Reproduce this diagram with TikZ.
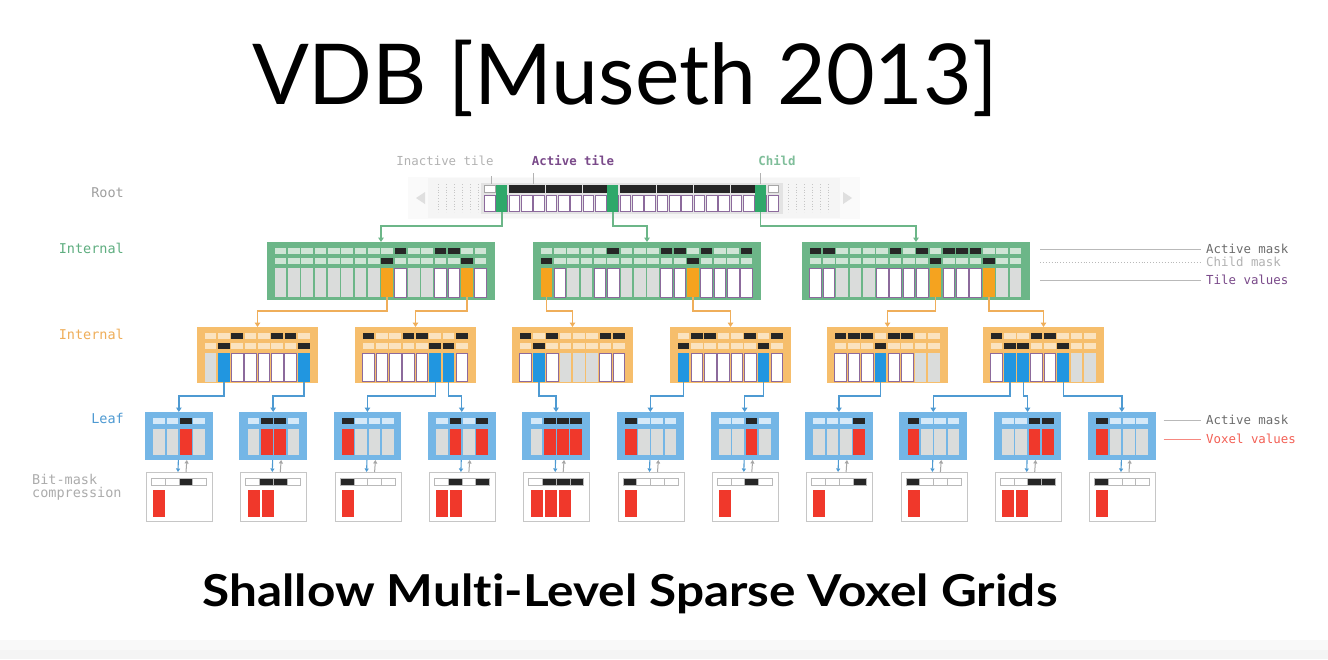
\documentclass[tikz,border=0pt]{standalone}
\usepackage{fontspec}
\newfontfamily\latof{Lato}[Ligatures=NoCommon]
\newfontfamily\monof{DejaVu Sans Mono}
\usetikzlibrary{arrows.meta}
\definecolor{gfr}{HTML}{6CB688}
\definecolor{gml}{HTML}{D0E5D6}
\definecolor{gch}{HTML}{2FA86A}
\definecolor{ofr}{HTML}{F6BE6C}
\definecolor{oml}{HTML}{FBE3BF}
\definecolor{och}{HTML}{F5A31F}
\definecolor{bfr}{HTML}{74B6E6}
\definecolor{bml}{HTML}{D5E9F8}
\definecolor{bch}{HTML}{2196E0}
\definecolor{vred}{HTML}{F0382B}
\definecolor{blk}{HTML}{262626}
\definecolor{gry}{HTML}{DADCDB}
\definecolor{purp}{HTML}{8C6A9C}
\definecolor{gtxt}{HTML}{5FAE80}
\definecolor{otxt}{HTML}{EFAE5A}
\definecolor{btxt}{HTML}{4E9AD2}
\definecolor{ptxt}{HTML}{7A4A8A}
\tikzset{
 gm0/.style={fill=gml}, gm1/.style={fill=blk},
 om0/.style={fill=oml}, om1/.style={fill=blk},
 bm0/.style={fill=bml}, bm1/.style={fill=blk},
 vg/.style={fill=gry}, vw/.style={fill=white,draw=purp,line width=0.9pt},
 vo/.style={fill=och}, vb/.style={fill=bch},
 lv0/.style={fill=gry}, lv1/.style={fill=vred},
 bk0/.style={fill=white,draw=gray!55,line width=0.7pt},
 bk1/.style={fill=blk,draw=gray!55,line width=0.7pt},
 gframe/.style={fill=gfr,minimum width=228pt,minimum height=58pt,inner sep=0pt,outer sep=0pt},
 oframe/.style={fill=ofr,minimum width=121pt,minimum height=56pt,inner sep=0pt,outer sep=0pt},
 lframe/.style={fill=bfr,minimum width=67.7pt,minimum height=48pt,inner sep=0pt,outer sep=0pt},
 bbox/.style={fill=white,draw=gray!45,line width=0.8pt,minimum width=66pt,minimum height=49pt,inner sep=0pt,outer sep=0pt},
 tip/.style={-{Triangle[width=5.5pt,length=4.5pt]}},
 gcon/.style={tip,draw=gfr,line width=1.4pt},
 ocon/.style={tip,draw=otxt,line width=1.4pt},
 bcon/.style={tip,draw=btxt,line width=1.4pt},
 lab/.style={font=\monof\fontsize{13.5}{15}\selectfont,inner sep=0pt},
 slab/.style={font=\monof\fontsize{12.4}{14}\selectfont,inner sep=0pt},
}
\newcommand\gnode[6]{%
 \begin{scope}[shift={(#2,#3)}]
 \node[gframe,anchor=north west] (#1) at (0,0) {};
 \foreach \val [count=\idx] in {#4} {\path[gm\val] ({7.7+13.33*(\idx-1)},6) rectangle ++(11.7,5.5);}
 \foreach \val [count=\idx] in {#5} {\path[gm\val] ({7.7+13.33*(\idx-1)},16) rectangle ++(11.7,5.5);}
 \foreach \val [count=\idx] in {#6} {\path[v\val] ({7.7+13.33*(\idx-1)},26) rectangle ++(11.7,29);
   \coordinate (#1-\idx) at ({7.7+13.33*(\idx-1)+5.85},55);}
 \end{scope}}
\newcommand\onode[5]{%
 \begin{scope}[shift={(#2,327)}]
 \node[oframe,anchor=north west] (#1) at (0,0) {};
 \foreach \val [count=\idx] in {#3} {\path[om\val] ({7.7+13.33*(\idx-1)},6) rectangle ++(11.7,5.5);}
 \foreach \val [count=\idx] in {#4} {\path[om\val] ({7.7+13.33*(\idx-1)},16) rectangle ++(11.7,5.5);}
 \foreach \val [count=\idx] in {#5} {\path[v\val] ({7.7+13.33*(\idx-1)},26) rectangle ++(11.7,28.5);
   \coordinate (#1-\idx) at ({7.7+13.33*(\idx-1)+5.85},54.5);}
 \end{scope}}
\newcommand\leafnode[4]{%
 \begin{scope}[shift={(#2,412)}]
 \node[lframe,anchor=north west] (#1) at (0,0) {};
 \foreach \val [count=\idx] in {#3} {
   \path[bm\val] ({8.3+13.33*(\idx-1)},6) rectangle ++(11.7,6);
   \path[lv\val] ({8.3+13.33*(\idx-1)},17) rectangle ++(11.7,26);}
 \node[bbox,anchor=north west] (#1b) at (1.5,60) {};
 \foreach \val [count=\idx] in {#3} {\path[bk\val] ({6.5+13.75*(\idx-1)},66.5) rectangle ++(13.75,6.5);}
 \foreach \k in {1,...,#4} {\path[fill=vred] ({8.3+14*(\k-1)},77.5) rectangle ++(12,27.5);}
 \end{scope}
 \draw[-{Triangle[width=4pt,length=3.5pt]},draw=btxt,line width=1.1pt] ([xshift=-0.5pt]#1.south) -- ([xshift=-1.5pt]#1b.north);
 \draw[-{Triangle[width=4pt,length=3.5pt]},draw=gray!70,line width=1pt] ([xshift=6.5pt]#1b.north) -- ([xshift=8pt]#1.south);}
\begin{document}
\begin{tikzpicture}[x=1pt,y=-1pt]
\useasboundingbox (0,0) rectangle (1328,659);
\fill[white] (0,0) rectangle (1328,659);
\fill[gray!5] (0,640) rectangle (1328,659);
\fill[gray!9] (0,650) rectangle (1328,659);
% title
\node[font=\latof\fontsize{84}{90}\selectfont,inner sep=0pt] (title) at (625,78) {VDB [Museth 2013]};
\node[font=\latof\bfseries\fontsize{44}{48}\selectfont,inner sep=0pt] (subtitle) at (630,594) {\scalebox{1.125}[1]{Shallow Multi-Level Sparse Voxel Grids}};
% left labels
\node[lab,text=gray!75,anchor=east] (lroot) at (124,193) {Root};
\node[lab,text=gtxt,anchor=east] (lint1) at (124,248) {Internal};
\node[lab,text=otxt,anchor=east] (lint2) at (124,334) {Internal};
\node[lab,text=btxt,anchor=east] (lleaf) at (124,418) {Leaf};
\node[lab,text=gray!65,anchor=west] (lbit1) at (32,479) {Bit-mask};
\node[lab,text=gray!65,anchor=west] (lbit2) at (32,494) {compression};
% root
\fill[gray!4] (408,177) rectangle (860,219);
\fill[gray!8] (428,178) rectangle (840,218);
\foreach \xx in {438,446,...,478} {\draw[gray!45,dotted,line width=0.8pt] (\xx,184) -- (\xx,212);}
\foreach \xx in {788,796,...,828} {\draw[gray!45,dotted,line width=0.8pt] (\xx,184) -- (\xx,212);}
\fill[gray!25] (416,198) -- (425,192) -- (425,204) -- cycle;
\fill[gray!25] (852,198) -- (843,192) -- (843,204) -- cycle;
\node[fill=gray!22,minimum width=302pt,minimum height=31pt,inner sep=0pt,anchor=north west] (root) at (481,182.5) {};
\foreach \val [count=\idx] in {i,c,a,a,a,a,a,a,a,a,c,a,a,a,a,a,a,a,a,a,a,a,c,i} {
  \if a\val \path[fill=blk] ({484+12.33*(\idx-1)},185) rectangle ++(12.1,7.5); \fi
  \if i\val \path[fill=white,draw=gray!70,line width=0.7pt] ({484.5+12.33*(\idx-1)},185.5) rectangle ++(10.6,6.5); \fi
  \path[fill=white,draw=purp,line width=0.9pt] ({484.5+12.33*(\idx-1)},195) rectangle ++(10.6,16);
}
\foreach \cc/\pos in {1/2,2/11,3/23} {
  \node[fill=gch,minimum width=11pt,minimum height=27pt,inner sep=0pt,outer sep=0pt,anchor=north west] (rc\cc) at ({484+12.33*(\pos-1)},185) {};
}
\node[slab,text=gray!60] (tinact) at (445,161) {Inactive tile};
\node[slab,text=ptxt,font=\monof\bfseries\fontsize{12.4}{14}\selectfont] (tact) at (573,161) {Active tile};
\node[slab,text=gtxt!80,font=\monof\bfseries\fontsize{12.4}{14}\selectfont] (tchild) at (777,161) {Child};
\coordinate (k1) at (491.5,176); \coordinate (k2) at (533,173); \coordinate (k3) at (760,173);
\draw[gray!60,line width=0.7pt] (k1) -- (491.5,184);
\draw[gray!60,line width=0.7pt] (k2) -- (533,184);
\draw[gray!60,line width=0.7pt] (k3) -- (760,184);
% green internal nodes
\gnode{g1}{267}{242}{0,0,0,0,0,0,0,0,0,1,0,0,1,1,0,0}{0,0,0,0,0,0,0,0,1,0,0,0,0,0,1,0}{g,g,g,g,g,g,g,g,o,w,g,g,w,w,o,w}
\gnode{g2}{533}{242}{0,0,0,0,0,1,0,0,0,1,1,0,1,0,0,1}{1,0,0,0,0,0,0,0,0,0,0,1,0,0,0,0}{o,w,g,g,w,w,g,g,g,w,w,o,w,w,w,w}
\gnode{g3}{802}{242}{1,1,0,0,0,0,1,0,1,0,1,1,1,0,0,0}{0,0,0,0,0,0,0,0,0,1,0,0,0,1,0,0}{w,w,g,g,g,w,w,w,w,o,w,w,w,o,g,g}
\draw[gcon] (rc1.south) -- ++(0,14) -| (g1.north);
\draw[gcon] (rc2.south) -- ++(0,14) -| (g2.north);
\draw[gcon] (rc3.south) -- ++(0,14) -| (g3.north);
% orange internal nodes
\onode{o1}{197}{0,0,1,0,0,1,1,0}{0,1,0,0,0,0,0,1}{g,b,w,w,w,w,w,b}
\onode{o2}{355}{1,0,0,1,1,0,0,1}{0,0,0,0,0,1,1,0}{w,w,w,w,w,b,b,w}
\onode{o3}{512}{1,0,1,0,0,0,1,1}{0,1,0,0,0,0,0,0}{w,b,w,g,g,g,w,w}
\onode{o4}{670}{0,1,1,0,0,1,0,1}{1,0,0,0,0,0,1,0}{b,w,w,w,w,w,b,w}
\onode{o5}{827}{1,1,1,0,1,1,0,0}{0,0,0,1,0,0,0,0}{w,w,w,b,w,w,g,g}
\onode{o6}{983}{1,0,0,1,1,0,0,0}{0,1,1,0,0,1,0,0}{w,b,b,w,w,b,g,g}
\draw[ocon] (g1-9) -- ++(0,14) -| (o1.north);
\draw[ocon] (g1-15) -- ++(0,14) -| (o2.north);
\draw[ocon] (g2-1) -- ++(0,14) -| (o3.north);
\draw[ocon] (g2-12) -- ++(0,14) -| (o4.north);
\draw[ocon] (g3-10) -- ++(0,14) -| (o5.north);
\draw[ocon] (g3-14) -- ++(0,14) -| (o6.north);
% leaves
\leafnode{l1}{145}{0,0,1,0}{1}
\leafnode{l2}{239.3}{0,1,1,0}{2}
\leafnode{l3}{333.6}{1,0,0,0}{1}
\leafnode{l4}{427.9}{0,1,0,1}{2}
\leafnode{l5}{522.2}{0,1,1,1}{3}
\leafnode{l6}{616.5}{1,0,0,0}{1}
\leafnode{l7}{710.8}{0,0,1,0}{1}
\leafnode{l8}{805.1}{0,0,0,1}{1}
\leafnode{l9}{899.4}{1,0,0,0}{1}
\leafnode{l10}{993.7}{0,0,1,1}{2}
\leafnode{l11}{1088}{1,0,0,0}{1}
\draw[bcon] (o1-2) -- ++(0,14.5) -| (l1.north);
\draw[bcon] (o1-8) -- ++(0,14.5) -| (l2.north);
\draw[bcon] (o2-6) -- ++(0,14.5) -| (l3.north);
\draw[bcon] (o2-7) -- ++(0,14.5) -| (l4.north);
\draw[bcon] (o3-2) -- ++(0,14.5) -| (l5.north);
\draw[bcon] (o4-1) -- ++(0,14.5) -| (l6.north);
\draw[bcon] (o4-7) -- ++(0,14.5) -| (l7.north);
\draw[bcon] (o5-4) -- ++(0,14.5) -| (l8.north);
\draw[bcon] (o6-2) -- ++(0,14.5) -| (l9.north);
\draw[bcon] (o6-3) -- ++(0,14.5) -| (l10.north);
\draw[bcon] (o6-6) -- ++(0,14.5) -| (l11.north);
% right labels
\node[slab,text=gray!85!black,anchor=west] (ram) at (1206,249) {Active mask};
\node[slab,text=gray!60,anchor=west] (rcm) at (1206,262) {Child mask};
\node[slab,text=ptxt,anchor=west] (rtv) at (1206,280) {Tile values};
\draw[gray!55,line width=0.9pt] ([xshift=10pt]g3.east |- ram.west) -- ([xshift=-5pt]ram.west);
\draw[gray!55,line width=0.9pt,dotted] ([xshift=10pt]g3.east |- rcm.west) -- ([xshift=-5pt]rcm.west);
\draw[gray!55,line width=0.9pt] ([xshift=10pt]g3.east |- rtv.west) -- ([xshift=-5pt]rtv.west);
\node[slab,text=gray!85!black,anchor=west] (lam) at (1206,420) {Active mask};
\node[slab,text=vred!80,anchor=west] (lvv) at (1206,439) {Voxel values};
\draw[gray!55,line width=0.9pt] ([xshift=8pt]l11.east |- lam.west) -- ([xshift=-5pt]lam.west);
\draw[vred!60,line width=0.9pt] ([xshift=8pt]l11.east |- lvv.west) -- ([xshift=-5pt]lvv.west);
\end{tikzpicture}
\end{document}
